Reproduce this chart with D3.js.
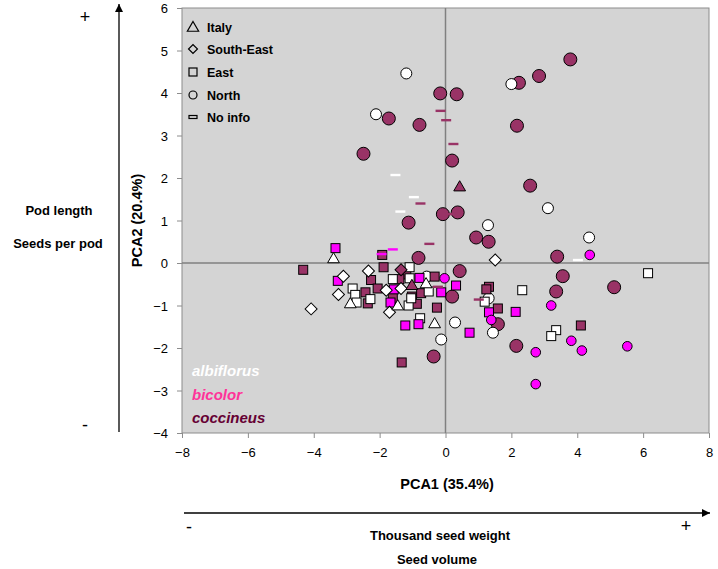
<!DOCTYPE html>
<html><head><meta charset="utf-8">
<script src="https://cdn.jsdelivr.net/npm/d3@7"></script>
<style>body{margin:0;background:#fff}svg{display:block;font-family:"Liberation Sans",Arial,sans-serif}</style>
</head><body><svg id="c" width="718" height="569"></svg>
<script>
// ---- data (PCA1, PCA2) ----
const coccineusNorth = [[-0.16,3.99],[0.34,3.97],[-1.72,3.40],[-0.79,3.25],[-2.49,2.57],[0.2,2.41],[-0.08,1.15],[0.37,1.19],[3.79,4.79],[2.84,4.40],[2.23,4.24],[2.17,3.23],[2.57,1.82],[-1.12,0.95],[-0.82,0.12],[0.93,0.60],[1.31,0.50],[3.39,0.15],[0.43,-0.19],[3.56,-0.31],[3.36,-0.67],[5.12,-0.57],[0.2,-0.79],[1.59,-1.44],[2.15,-1.95],[-0.36,-2.2]];
const coccineusEast = [[-1.92,0.19],[-4.32,-0.16],[-2.43,-0.69],[-2.36,-0.95],[-2.26,-0.40],[-2.06,-0.60],[-1.88,-0.10],[-1.19,-0.27],[-1.40,-0.38],[-0.33,-0.32],[-1.60,-0.82],[-1.02,-0.79],[-0.74,-0.71],[-0.87,-0.96],[-0.26,-1.05],[1.32,-0.56],[1.24,-0.62],[1.59,-1.07],[4.11,-1.47],[-1.33,-2.34]];
const coccineusItaly = [[0.43,1.80],[-1.02,-0.52]];
const coccineusSouthEast = [[-1.35,-0.16]];
const coccineusNoInfo = [[-0.15,3.58],[0.02,3.36],[0.24,2.8],[-0.76,1.40],[0.15,1.15],[-0.49,0.45],[-0.23,-0.56],[1.01,-0.86]];
const bicolorNorth = [[4.38,0.19],[-0.03,-0.36],[3.21,-1.0],[1.39,-1.34],[2.74,-2.10],[2.74,-2.85],[3.82,-1.83],[4.14,-2.06],[5.52,-1.96]];
const bicolorEast = [[-3.34,0.35],[-3.27,-0.42],[0.32,-0.53],[-0.13,-0.69],[-0.79,-0.35],[-1.57,-0.62],[-1.67,-0.93],[1.32,-1.16],[2.13,-1.15],[0.73,-1.64],[-1.22,-1.47],[-0.82,-1.44]];
const bicolorNoInfo = [[-1.60,0.32],[-1.94,0.21]];
const albiflorusNorth = [[-1.19,4.46],[-2.11,3.50],[2.0,4.21],[3.11,1.29],[1.29,0.89],[4.36,0.60],[-0.57,-0.32],[1.31,-0.83],[0.29,-1.40],[1.44,-1.64],[-0.13,-1.80]];
const albiflorusEast = [[6.15,-0.24],[2.33,-0.64],[1.19,-0.91],[3.36,-1.58],[3.21,-1.72],[-2.82,-0.60],[-2.74,-0.75],[-2.70,-0.93],[-2.28,-0.85],[-1.09,-0.10],[-1.60,-0.38],[-1.09,-0.36],[-0.51,-0.67],[-1.12,-1.0],[-0.77,-1.30],[-1.04,-0.83]];
const albiflorusItaly = [[-3.40,0.11],[-2.89,-0.95],[-0.59,-0.48],[-1.45,-1.0],[-0.33,-1.42]];
const albiflorusSouthEast = [[1.51,0.07],[-3.10,-0.31],[-3.25,-0.74],[-4.08,-1.08],[-2.34,-0.19],[-1.80,-0.64],[-1.35,-0.60],[-1.70,-1.16]];
const albiflorusNoInfo = [[-1.52,2.07],[-0.96,1.55],[-1.37,1.21],[4.02,0.07]];
const xTicks = [-8,-6,-4,-2,0,2,4,6,8];
const yTicks = [-4,-3,-2,-1,0,1,2,3,4,5,6];
const legendLabels = ["Italy","South-East","East","North","No info"];
const speciesLabels = ["albiflorus","bicolor","coccineus"];

// ---- layout ----
const svg = d3.select("#c");
const L=182,R=709,T=8,B=433;
const x = d3.scaleLinear().domain([-8,8]).range([L,R]);
const y = d3.scaleLinear().domain([-4,6]).range([B,T]);
const col = {coccineus:"#993366", bicolor:"#ff00ff", albiflorus:"#ffffff"};

svg.append("rect").attr("x",L).attr("y",T).attr("width",R-L).attr("height",B-T)
  .attr("fill","#d4d4d4").attr("stroke","#8c8c8c").attr("stroke-width",1);

// axes
const xa = svg.append("g").attr("transform",`translate(0,${B})`)
  .call(d3.axisBottom(x).tickValues(xTicks).tickSize(5).tickPadding(10).tickSizeOuter(0));
const ya = svg.append("g").attr("transform",`translate(${L},0)`)
  .call(d3.axisLeft(y).tickValues(yTicks).tickSize(5).tickPadding(9).tickSizeOuter(0));
[xa,ya].forEach(a=>{a.select(".domain").remove();
  a.selectAll("line").attr("stroke","#8c8c8c");
  a.selectAll("text").attr("font-size",13).attr("fill","#000").attr("font-family","Liberation Sans, Arial, sans-serif");});
ya.selectAll("text").attr("dy","0.35em");

// zero lines
svg.append("line").attr("x1",x(0)).attr("x2",x(0)).attr("y1",T).attr("y2",B).attr("stroke","#808080").attr("stroke-width",1.5);
svg.append("line").attr("x1",L).attr("x2",R).attr("y1",y(0)).attr("y2",y(0)).attr("stroke","#808080").attr("stroke-width",1.5);

// symbols
const g = svg.append("g");
function circles(data,fill,r){g.selectAll(null).data(data).enter().append("circle")
  .attr("cx",d=>x(d[0])).attr("cy",d=>y(d[1])).attr("r",r).attr("fill",fill).attr("stroke","#000").attr("stroke-width",1);}
function squares(data,fill){g.selectAll(null).data(data).enter().append("rect")
  .attr("x",d=>x(d[0])-4.5).attr("y",d=>y(d[1])-4.5).attr("width",9).attr("height",9).attr("fill",fill).attr("stroke","#000").attr("stroke-width",1);}
function diamonds(data,fill){g.selectAll(null).data(data).enter().append("path")
  .attr("d",d3.symbol(d3.symbolSquare,72)()).attr("transform",d=>`translate(${x(d[0])},${y(d[1])}) rotate(45)`)
  .attr("fill",fill).attr("stroke","#000").attr("stroke-width",1);}
function triangles(data,fill){g.selectAll(null).data(data).enter().append("path")
  .attr("d",d3.symbol(d3.symbolTriangle,60)()).attr("transform",d=>`translate(${x(d[0])},${y(d[1])+1})`)
  .attr("fill",fill).attr("stroke","#000").attr("stroke-width",1);}
function dashes(data,c){g.selectAll(null).data(data).enter().append("rect")
  .attr("x",d=>x(d[0])-5).attr("y",d=>y(d[1])-1.2).attr("width",10).attr("height",2.4).attr("fill",c);}

circles(coccineusNorth,col.coccineus,6.5);
circles(albiflorusNorth,col.albiflorus,5.5);
squares(coccineusEast,col.coccineus);
squares(albiflorusEast,col.albiflorus);
squares(bicolorEast,col.bicolor);
circles(bicolorNorth,col.bicolor,4.8);
diamonds(albiflorusSouthEast,col.albiflorus);
diamonds(coccineusSouthEast,col.coccineus);
triangles(albiflorusItaly,col.albiflorus);
triangles(coccineusItaly,col.coccineus);
dashes(coccineusNoInfo,col.coccineus);
dashes(bicolorNoInfo,col.bicolor);
dashes(albiflorusNoInfo,col.albiflorus);

// legend
const lg = svg.append("g");
const ly=[27,49,72,95,117], lx=193;
lg.append("path").attr("d",d3.symbol(d3.symbolTriangle,55)()).attr("transform",`translate(${lx},${ly[0]+1})`).attr("fill","none").attr("stroke","#000").attr("stroke-width",1.2);
lg.append("path").attr("d",d3.symbol(d3.symbolSquare,40)()).attr("transform",`translate(${lx},${ly[1]}) rotate(45)`).attr("fill","none").attr("stroke","#000").attr("stroke-width",1.2);
lg.append("rect").attr("x",lx-4).attr("y",ly[2]-4).attr("width",8).attr("height",8).attr("fill","none").attr("stroke","#000").attr("stroke-width",1.2);
lg.append("circle").attr("cx",lx).attr("cy",ly[3]).attr("r",4).attr("fill","none").attr("stroke","#000").attr("stroke-width",1.2);
lg.append("rect").attr("x",lx-4).attr("y",ly[4]-1.5).attr("width",8).attr("height",3).attr("fill","none").attr("stroke","#000").attr("stroke-width",1.2);
lg.selectAll(null).data(legendLabels).enter().append("text").attr("x",207).attr("y",(d,i)=>ly[i]).attr("dy","0.36em")
  .attr("font-size",12.5).attr("font-weight","bold").text(d=>d);

// species labels
const spCol=["#ffffff","#ff3399","#660033"];
svg.selectAll(null).data(speciesLabels).enter().append("text").attr("x",192).attr("y",(d,i)=>376+i*23.5)
  .attr("font-size",15).attr("font-weight","bold").attr("font-style","italic").attr("fill",(d,i)=>spCol[i]).text(d=>d);

// axis titles
svg.append("text").attr("x",447).attr("y",489).attr("text-anchor","middle").attr("font-size",14.5).attr("font-weight","bold").text("PCA1 (35.4%)");
svg.append("text").attr("transform",`translate(142,${(T+B)/2}) rotate(-90)`).attr("text-anchor","middle").attr("font-size",14.5).attr("font-weight","bold").text("PCA2 (20.4%)");

// arrows
svg.append("defs").append("marker").attr("id","ah").attr("viewBox","0 0 10 10").attr("refX",10).attr("refY",5)
  .attr("markerWidth",8).attr("markerHeight",8).attr("markerUnits","userSpaceOnUse").attr("orient","auto")
  .append("path").attr("d","M0,0L10,5L0,10Z").attr("fill","#000");
svg.append("line").attr("x1",119).attr("x2",119).attr("y1",432).attr("y2",4).attr("stroke","#000").attr("stroke-width",1.3).attr("marker-end","url(#ah)");
svg.append("line").attr("x1",184).attr("x2",710).attr("y1",513).attr("y2",513).attr("stroke","#000").attr("stroke-width",1.3).attr("marker-end","url(#ah)");
const t=(xx,yy,s,fs,w)=>svg.append("text").attr("x",xx).attr("y",yy).attr("text-anchor","middle").attr("font-size",fs).attr("font-weight",w||"bold").text(s);
t(85,23,"+",18,"normal");
t(85,431,"-",18,"normal");
t(189,533,"-",18,"normal");
t(686,532,"+",18,"normal");
t(59,215,"Pod length",13);
t(58,248,"Seeds per pod",13);
t(440,540,"Thousand seed weight",13);
t(437,564,"Seed volume",13);
</script></body></html>
